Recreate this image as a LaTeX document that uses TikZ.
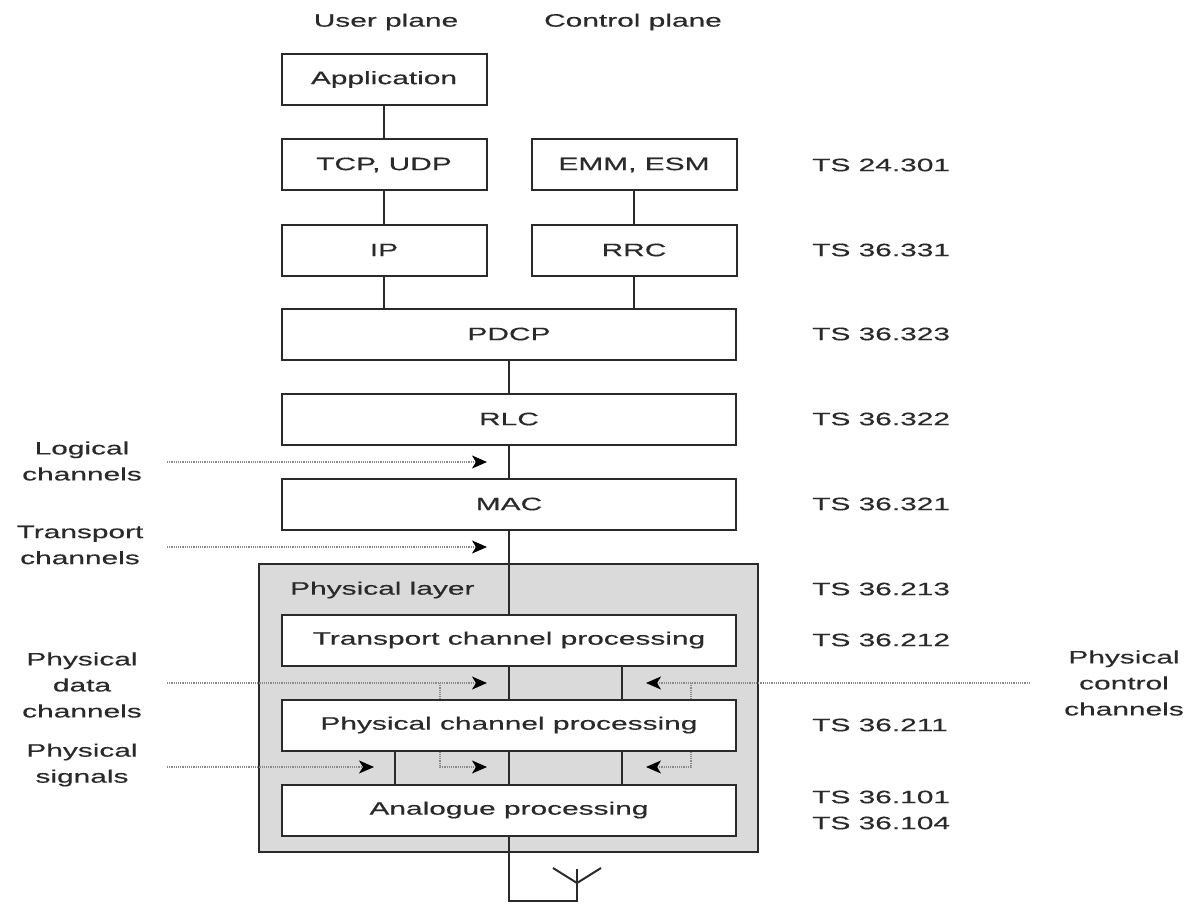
\documentclass[tikz,border=0pt]{standalone}
\usepackage{fontspec}
\setmainfont{Liberation Sans}[FakeStretch=1.66,FakeBold=0.4]
\usetikzlibrary{arrows.meta,calc}
\definecolor{txt}{HTML}{2A2A2A}
\definecolor{ln}{HTML}{2A2A2A}
\definecolor{phy}{HTML}{DADADA}
\definecolor{dotc}{HTML}{8A8A8A}
\begin{document}
\begin{tikzpicture}[x=1pt,y=-1pt,
  font=\fontsize{18}{26}\selectfont, text=txt,
  box/.style={draw=ln, line width=2pt, fill=white, inner sep=0pt, minimum height=51pt},
  smallbox/.style={box, minimum width=205pt},
  widebox/.style={box, minimum width=454pt},
  link/.style={draw=ln, line width=2pt},
  feed/.style={draw=dotc, line width=1.2pt, densely dotted},
  feedarrow/.style={feed, -{Stealth[length=15pt,width=13pt,inset=4pt,color=black]}},
  lbl/.style={align=center, inner sep=0pt},
  ts/.style={anchor=west, inner sep=0pt}]
\useasboundingbox (0,0) rectangle (1188,904);
% headers
\node[lbl] (hup) at (386,22) {User plane};
\node[lbl] (hcp) at (633,22) {Control plane};
% physical layer container
\node[draw=ln, line width=2pt, fill=phy, minimum width=499pt, minimum height=288pt, inner sep=0pt] (phy) at (508.5,708) {};
\node[anchor=west, inner sep=0pt] (phyl) at (290,590) {Physical layer};
% boxes
\node[smallbox] (app) at (384,79.5) {Application};
\node[smallbox] (tcp) at (384,165) {TCP, UDP};
\node[smallbox] (emm) at (634,165) {EMM, ESM};
\node[smallbox] (ip) at (384,250) {IP};
\node[smallbox] (rrc) at (634,250) {RRC};
\node[widebox] (pdcp) at (509,334) {PDCP};
\node[widebox] (rlc) at (509,419) {RLC};
\node[widebox] (mac) at (509,504) {MAC};
\node[widebox] (tcproc) at (509,640) {Transport channel processing};
\node[widebox] (pcproc) at (509,725) {Physical channel processing};
\node[widebox] (ana) at (509,810) {Analogue processing};
% vertical links
\draw[link] (app.south) -- (tcp.north);
\draw[link] (tcp.south) -- (ip.north);
\draw[link] (emm.south) -- (rrc.north);
\draw[link] (ip.south) -- (ip.south |- pdcp.north);
\draw[link] (rrc.south) -- (rrc.south |- pdcp.north);
\draw[link] (pdcp.south) -- (rlc.north);
\draw[link] (rlc.south) -- (mac.north);
\draw[link] (mac.south) -- (tcproc.north);
\draw[link] (tcproc.south) -- (pcproc.north);
\draw[link] ([xshift=113pt]tcproc.south) -- ([xshift=113pt]pcproc.north);
\draw[link] ([xshift=-114pt]pcproc.south) -- ([xshift=-114pt]ana.north);
\draw[link] (pcproc.south) -- (ana.north);
\draw[link] ([xshift=113pt]pcproc.south) -- ([xshift=113pt]ana.north);
% antenna
\coordinate (antb) at (577,901);
\coordinate (antt) at (577,869);
\coordinate (antv) at (577,883);
\coordinate (antl) at (553,868);
\coordinate (antr) at (601,868);
\draw[link] (ana.south) |- (antb) -- (antt);
\draw[link] (antl) -- (antv) -- (antr);
% left labels
\node[lbl] (logl) at (82,461) {Logical\\channels};
\node[lbl] (trl) at (80,545) {Transport\\channels};
\node[lbl] (pdl) at (82,685) {Physical\\data\\channels};
\node[lbl] (psl) at (82,765) {Physical\\signals};
\node[lbl] (pcl) at (1124,683) {Physical\\control\\channels};
% feed arrows
\coordinate (logs) at (167,462);
\coordinate (loge) at (487,462);
\coordinate (trs) at (167,547);
\coordinate (tre) at (487,547);
\coordinate (pds) at (167,683);
\coordinate (pde) at (487,683);
\coordinate (pdb) at (440,683);
\coordinate (pcs) at (1030,683);
\coordinate (pce) at (646,683);
\coordinate (pcb) at (691,683);
\coordinate (pss) at (167,767);
\coordinate (pse) at (374,767);
\coordinate (lse) at (487,767);
\coordinate (rse) at (646,767);
\draw[feedarrow] (logs) -- (loge);
\draw[feedarrow] (trs) -- (tre);
\draw[feedarrow] (pds) -- (pde);
\draw[feed] (pdb) -- (pdb |- pcproc.north);
\draw[feedarrow] (pcs) -- (pce);
\draw[feed] (pcb) -- (pcb |- pcproc.north);
\draw[feedarrow] (pss) -- (pse);
\draw[feedarrow] (pdb |- pcproc.south) |- (lse);
\draw[feedarrow] (pcb |- pcproc.south) |- (rse);
% spec labels
\node[ts] (s1) at (812,165) {TS 24.301};
\node[ts] (s2) at (812,250) {TS 36.331};
\node[ts] (s3) at (812,334) {TS 36.323};
\node[ts] (s4) at (812,419) {TS 36.322};
\node[ts] (s5) at (812,504) {TS 36.321};
\node[ts] (s6) at (812,589) {TS 36.213};
\node[ts] (s7) at (812,640) {TS 36.212};
\node[ts] (s8) at (812,725) {TS 36.211};
\node[ts, align=left] (s9) at (812,810) {TS 36.101\\TS 36.104};
\end{tikzpicture}
\end{document}
